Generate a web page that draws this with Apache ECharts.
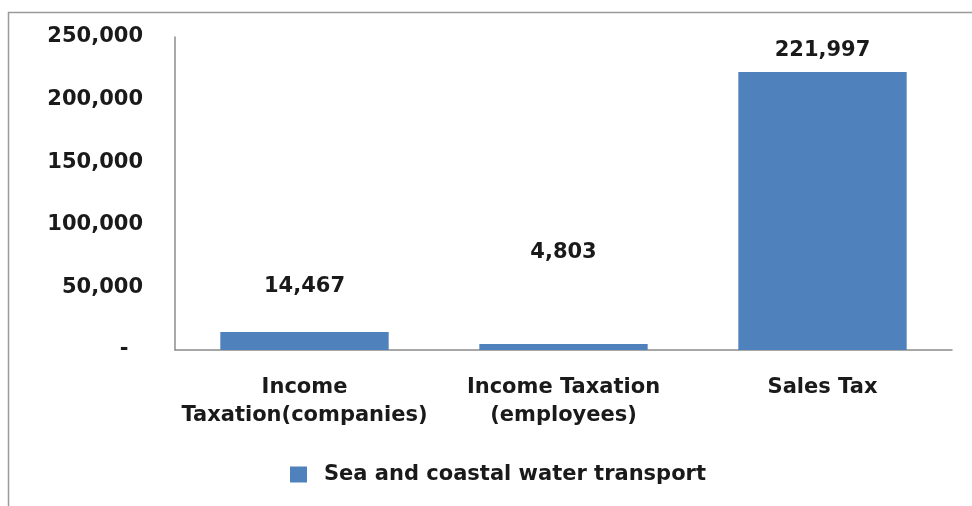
<!DOCTYPE html>
<html>
<head>
<meta charset="utf-8">
<script src="https://cdn.jsdelivr.net/npm/echarts@6/dist/echarts.min.js"></script>
<style>
  html, body { margin: 0; padding: 0; background: #fff; }
  #chart { width: 972px; height: 506px; }
</style>
</head>
<body>
<div id="chart"></div>
<script>
// Tax revenue by category for the sea and coastal water transport sector
const categories = ['Income\nTaxation(companies)', 'Income Taxation\n(employees)', 'Sales Tax'];
const seriesName = 'Sea and coastal water transport';
const values = [14467, 4803, 221997];
// Distance of each value label above its bar
const labelGaps = [35, 81, 11];

const fmt = v => v.toLocaleString('en-US');
const FONT = 'DejaVu Sans';
const TEXT = '#1a1a1a';

const chart = echarts.init(document.getElementById('chart'));
chart.setOption({
  animation: false,
  backgroundColor: '#ffffff',
  graphic: [{
    type: 'rect',
    shape: { x: 8.5, y: 12.5, width: 2000, height: 2000 },
    style: { fill: 'none', stroke: '#9a9a9a', lineWidth: 1.5 },
    silent: true
  }],
  grid: { left: 175, right: 20, top: 37, bottom: 156, containLabel: false },
  legend: {
    data: [seriesName],
    left: 290,
    top: 464,
    padding: 0,
    itemWidth: 17,
    itemHeight: 16,
    itemGap: 10,
    icon: 'rect',
    textStyle: { fontFamily: FONT, fontSize: 21, fontWeight: 'bold', color: TEXT, padding: [0, 0, 0, 12] }
  },
  xAxis: {
    type: 'category',
    data: categories,
    axisLine: { lineStyle: { color: '#8c8c8c', width: 1.5 } },
    axisTick: { show: false },
    axisLabel: {
      interval: 0,
      margin: 24,
      fontFamily: FONT,
      fontSize: 21,
      fontWeight: 'bold',
      lineHeight: 28,
      color: TEXT
    }
  },
  yAxis: {
    type: 'value',
    min: 0,
    max: 250000,
    interval: 50000,
    splitLine: { show: false },
    axisLine: { show: true, lineStyle: { color: '#8c8c8c', width: 1.5 } },
    axisTick: { show: false },
    axisLabel: {
      margin: 32,
      fontFamily: FONT,
      fontSize: 21,
      fontWeight: 'bold',
      color: TEXT,
      formatter: v => (v === 0 ? '-  ' : fmt(v))
    }
  },
  series: [{
    name: seriesName,
    type: 'bar',
    barWidth: '65%',
    itemStyle: { color: '#4F81BD' },
    data: values.map((v, i) => ({
      value: v,
      label: {
        show: true,
        position: 'top',
        distance: labelGaps[i],
        formatter: p => fmt(p.value),
        fontFamily: FONT,
        fontSize: 21,
        fontWeight: 'bold',
        color: TEXT
      }
    }))
  }]
});
</script>
</body>
</html>
